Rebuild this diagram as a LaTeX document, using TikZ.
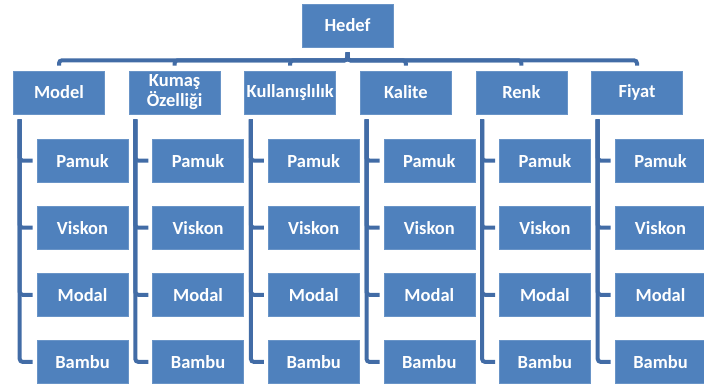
\documentclass[tikz,border=0pt]{standalone}
\usepackage{fontspec}
\setmainfont{Carlito}
\usetikzlibrary{positioning}
\definecolor{boxblue}{RGB}{79,129,189}
\definecolor{lineblue}{RGB}{66,108,166}

\begin{document}
\begin{tikzpicture}[x=1pt, y=1pt,
  box/.style={rectangle, fill=boxblue, draw=boxblue!85!white,
    line width=0.6pt, minimum width=91pt, minimum height=43pt,
    inner sep=1pt, text=white, align=center,
    font=\fontsize{18.5}{20}\selectfont\bfseries},
  link/.style={draw=lineblue, line width=4pt, rounded corners=3pt}
]
\useasboundingbox (0,0) rectangle (704,-385);

\node[box] (hedef) at (347.5,-25.5) {Hedef};

\node[box] (c1) at (59,-92.5) {Model};
\node[box, right=24pt of c1] (c2) {Kumaş\\Özelliği};
\node[box, right=24pt of c2] (c3) {Kullanışlılık};
\node[box, right=24pt of c3] (c4) {Kalite};
\node[box, right=24pt of c4] (c5) {Renk};
\node[box, right=24pt of c5] (c6) {Fiyat};

\foreach \c in {c1,c2,c3,c4,c5,c6} {
  \draw[link, shorten <=5pt, shorten >=5pt]
    (hedef.south) -- ++(0,-13) -| (\c.north);
  \node[box, below=24.5pt of \c, xshift=23.5pt] (\c-1) {Pamuk};
  \node[box, below=23.5pt of \c-1] (\c-2) {Viskon};
  \node[box, below=23.5pt of \c-2] (\c-3) {Modal};
  \node[box, below=23.5pt of \c-3] (\c-4) {Bambu};
  \foreach \k in {1,2,3,4}
    \draw[link, shorten <=5pt, shorten >=4pt]
      ([xshift=6.5pt]\c.south west) |- (\c-\k.west);
}
\end{tikzpicture}
\end{document}
